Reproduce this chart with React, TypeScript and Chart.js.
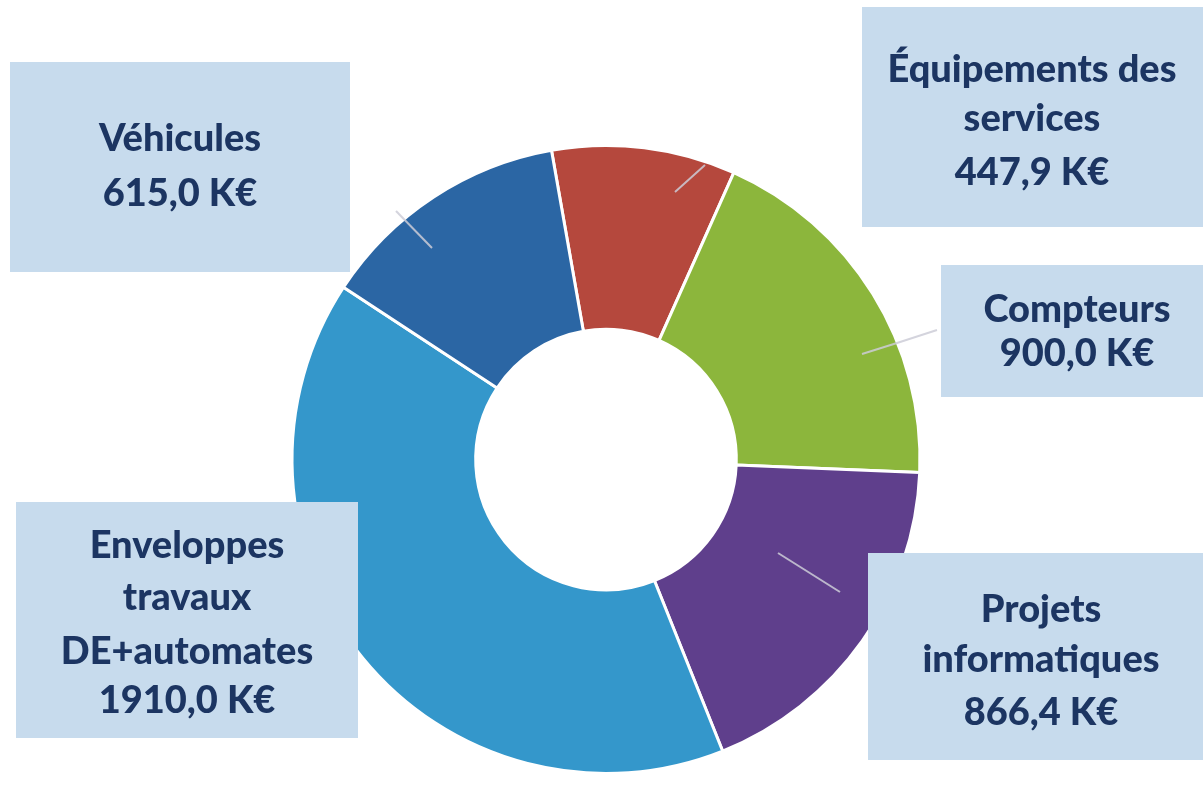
import React, { useEffect, useRef } from "react";
import { Chart, registerables } from "chart.js";

Chart.register(...registerables);

const categories = [
  "Équipements des services",
  "Compteurs",
  "Projets informatiques",
  "Enveloppes travaux DE+automates",
  "Véhicules",
];
const values = [447.9, 900.0, 866.4, 1910.0, 615.0];
const colors = ["#b5483d", "#8cb63c", "#5f3f8c", "#3497cb", "#2b66a4"];
const labelLines = [
  ["Équipements des", "services", "447,9 K€"],
  ["Compteurs", "900,0 K€"],
  ["Projets", "informatiques", "866,4 K€"],
  ["Enveloppes", "travaux", "DE+automates", "1910,0 K€"],
  ["Véhicules", "615,0 K€"],
];

// layout of the label boxes: [x, y, w, h], text centre x, baselines
const boxLayout = [
  { rect: [862, 7, 345, 220], cx: 1032, base: [82, 131, 185] },
  { rect: [941, 265, 265, 132], cx: 1077, base: [322, 366] },
  { rect: [868, 553, 340, 207], cx: 1041, base: [622, 672, 725] },
  { rect: [16, 502, 342, 236], cx: 187, base: [558, 610, 664, 713] },
  { rect: [10, 62, 340, 210], cx: 180, base: [151, 206] },
];
// leader lines (from segment toward label)
const leaders = [
  [[675, 192], [705, 165]],
  [[862, 354], [897, 343], [937, 330]],
  [[778, 553], [840, 592]],
  null,
  [[432, 248], [396, 211]],
];

const labelPlugin = {
  id: "labelBoxes",
  afterDraw(chart: any) {
    const ctx = chart.ctx;
    ctx.save();
    leaders.forEach((pts) => {
      if (!pts) return;
      ctx.beginPath();
      ctx.moveTo(pts[0][0], pts[0][1]);
      for (let i = 1; i < pts.length; i++) ctx.lineTo(pts[i][0], pts[i][1]);
      ctx.strokeStyle = "rgba(205,205,215,0.85)";
      ctx.lineWidth = 2;
      ctx.stroke();
    });
    boxLayout.forEach((b, i) => {
      const [x, y, w, h] = b.rect;
      ctx.fillStyle = "#c7dbed";
      ctx.fillRect(x, y, w, h);
      ctx.fillStyle = "#1c3562";
      ctx.font = "900 38px Lato";
      ctx.textAlign = "center";
      ctx.textBaseline = "alphabetic";
      labelLines[i].forEach((t, j) => {
        ctx.fillText(t, b.cx, b.base[j]);
      });
    });
    ctx.restore();
  },
};

export default function App() {
  const ref = useRef<HTMLCanvasElement>(null);
  useEffect(() => {
    if (!ref.current) return;
    const chart = new Chart(ref.current, {
      type: "doughnut",
      data: {
        labels: categories,
        datasets: [
          {
            data: values,
            backgroundColor: colors,
            borderColor: "#ffffff",
            borderWidth: 3,
          },
        ],
      },
      options: {
        responsive: false,
        animation: false,
        rotation: -10,
        cutout: "41.5%",
        layout: { padding: { left: 290, right: 281, top: 144, bottom: 13 } },
        plugins: {
          legend: { display: false },
          tooltip: { enabled: false },
          title: { display: false },
        },
      },
      plugins: [labelPlugin],
    });
    return () => chart.destroy();
  }, []);
  return (
    <div style={{ position: "absolute", left: 0, top: 0, width: 1203, height: 788, background: "#ffffff" }}>
      <canvas ref={ref} width={1203} height={788} />
    </div>
  );
}
